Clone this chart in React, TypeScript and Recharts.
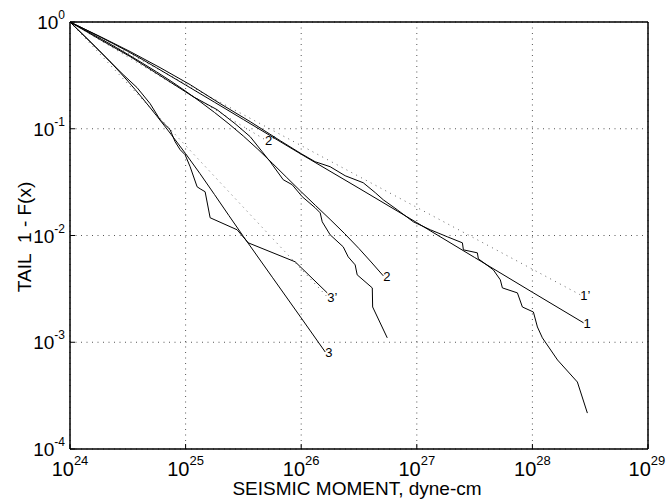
import { CartesianGrid, Line, LineChart, XAxis, YAxis } from 'recharts'

const FONT = '"Liberation Sans", Arial, Helvetica, sans-serif'

// decades on both axes
const X_TICKS = [1e24, 1e25, 1e26, 1e27, 1e28, 1e29]
const Y_TICKS = [1e-4, 1e-3, 1e-2, 1e-1, 1]

// seismic moment (dyne-cm) and tail 1 - F(x)

// curve 1, empirical (stepped)
const EMP1_M = [1e24, 1.82e24, 3.31e24, 6.01e24, 1.094e25, 1.99e25, 3.62e25, 6.58e25, 1.0e26, 1.32e26, 1.78e26, 2.4e26, 3.44e26, 4.37e26, 5.13e26, 6.78e26, 9.33e26, 1.31e27, 1.84e27, 2.48e27, 2.53e27, 3.34e27, 3.41e27, 4.59e27, 5.28e27, 5.5e27, 7.42e27, 8.19e27, 1.02e28, 1.105e28, 1.22e28, 1.65e28, 2.45e28, 2.99e28]
const EMP1_T = [1, 0.731, 0.529, 0.374, 0.259, 0.172, 0.1166, 0.0773, 0.0584, 0.0491, 0.0441, 0.0363, 0.0312, 0.0252, 0.0216, 0.0174, 0.01344, 0.01131, 9.72e-3, 8.54e-3, 7.34e-3, 6.88e-3, 6.05e-3, 4.77e-3, 3.84e-3, 3.23e-3, 2.9e-3, 2.14e-3, 1.92e-3, 1.39e-3, 1.1e-3, 6.82e-4, 4.24e-4, 2.17e-4]
// curve 1, fit
const FIT1_M = [1e24, 3.16e24, 1e25, 3.16e25, 1e26, 3.16e26, 1e27, 3.16e27, 1e28, 2.77e28]
const FIT1_T = [1, 0.531, 0.257, 0.122, 0.0577, 0.0277, 0.0132, 6.23e-3, 2.94e-3, 1.52e-3]
// curve 1', pure power law
const PAR1_M = [1e24, 2.6e28]
const PAR1_T = [1, 2.78e-3]

// curve 2
const EMP2_M = [1e24, 1.82e24, 3.31e24, 6.01e24, 1.16e25, 1.87e25, 2.68e25, 3.62e25, 5.39e25, 6.99e25, 8.36e25, 1.02e26, 1.32e26, 1.46e26, 1.52e26, 1.78e26, 2.31e26, 2.55e26, 2.93e26, 3.05e26, 4.12e26, 4.15e26, 5.55e26]
const EMP2_T = [1, 0.685, 0.475, 0.315, 0.2, 0.151, 0.1116, 0.0843, 0.0491, 0.0333, 0.0299, 0.0231, 0.0182, 0.0163, 0.01344, 0.01015, 7.83e-3, 6.31e-3, 5.31e-3, 4.28e-3, 3.23e-3, 2.14e-3, 1.1e-3]
const FIT2_M = [1e24, 3.16e24, 1e25, 3.16e25, 1e26, 3.16e26, 5.13e26]
const FIT2_T = [1, 0.498, 0.225, 0.0854, 0.0257, 7.55e-3, 4.19e-3]
const PAR2_M = [1e24, 4.87e25]
const PAR2_T = [1, 0.079]

// curve 3
const EMP3_M = [1e24, 1.646e24, 2.22e24, 2.88e24, 3.8e24, 4.93e24, 6.01e24, 7.34e24, 8.11e24, 8.96e24, 9.9e24, 1.094e25, 1.258e25, 1.335e25, 1.475e25, 1.63e25, 2.79e25, 3.48e25, 8.87e25, 1.68e26]
const EMP3_T = [1, 0.589, 0.426, 0.322, 0.243, 0.172, 0.1217, 0.0981, 0.0757, 0.0637, 0.0571, 0.0441, 0.0286, 0.0274, 0.0257, 0.01466, 0.01131, 8.54e-3, 5.67e-3, 2.9e-3]
const FIT3_M = [1e24, 3.16e24, 1e25, 3.16e25, 1e26, 1.615e26]
const FIT3_T = [1, 0.28, 0.0584, 9.8e-3, 1.69e-3, 8.1e-4]
const PAR3_M = [1e24, 1.68e26]
const PAR3_T = [1, 2.66e-3]

const zip = (m: number[], t: number[]) => m.map((v, i) => ({ m: v, t: t[i] }))

const exp10 = (v: number) => Math.round(Math.log10(v))

function XTick({ x, y, payload }: any) {
  return (
    <text x={x} y={y + 27} textAnchor="middle" fontFamily={FONT} fontSize={20} fill="#000">
      <tspan>10</tspan>
      <tspan fontSize={13} dy={-11}>{exp10(payload.value)}</tspan>
    </text>
  )
}

function YTick({ x, y, payload }: any) {
  return (
    <text x={x} y={y + 7} textAnchor="end" fontFamily={FONT} fontSize={19} fill="#000">
      <tspan>10</tspan>
      <tspan fontSize={12} dy={-10}>{exp10(payload.value)}</tspan>
    </text>
  )
}

const endLabel = (text: string, n: number) => (p: any) =>
  p.index === n - 1 ? (
    <text x={p.x} y={p.y + 5} fontFamily={FONT} fontSize={13} fill="#000">
      {text}
    </text>
  ) : null

const solid = { stroke: '#000', strokeWidth: 1, dot: false, activeDot: false, isAnimationActive: false }
const dotted = { stroke: '#666', strokeWidth: 1, strokeDasharray: '1 4.5', dot: false, activeDot: false, isAnimationActive: false }

export default function App() {
  return (
    <div style={{ position: 'absolute', left: 0, top: 0, background: '#fff' }}>
      <LineChart width={667} height={500} margin={{ top: 21, right: 18, bottom: 0, left: 0 }}>
        <CartesianGrid stroke="#555" strokeDasharray="1 4.5" />
        <XAxis
          dataKey="m"
          type="number"
          scale="log"
          domain={[1e24, 1e29]}
          ticks={X_TICKS}
          allowDataOverflow
          height={51}
          tick={<XTick />}
          tickSize={-5}
          tickMargin={5}
          axisLine={{ stroke: '#000', strokeWidth: 1.5 }}
          tickLine={{ stroke: '#000' }}
          label={{
            content: () => (
              <text x={357} y={495} textAnchor="middle" fontFamily={FONT} fontSize={19} fill="#000">
                SEISMIC MOMENT, dyne-cm
              </text>
            ),
          }}
        />
        <XAxis
          xAxisId="top"
          orientation="top"
          type="number"
          scale="log"
          domain={[1e24, 1e29]}
          ticks={X_TICKS}
          allowDataOverflow
          height={1}
          tick={false}
          tickSize={-5}
          axisLine={{ stroke: '#000', strokeWidth: 1.5 }}
          tickLine={{ stroke: '#000' }}
        />
        <YAxis
          type="number"
          scale="log"
          domain={[1e-4, 1]}
          ticks={Y_TICKS}
          allowDataOverflow
          width={70}
          tick={<YTick />}
          tickSize={-5}
          tickMargin={10}
          axisLine={{ stroke: '#000', strokeWidth: 1.5 }}
          tickLine={{ stroke: '#000' }}
          label={{
            content: () => (
              <text
                x={31}
                y={237}
                transform="rotate(-90 31 237)"
                textAnchor="middle"
                fontFamily={FONT}
                fontSize={19}
                fill="#000"
              >
                {'TAIL\u00a0\u00a01 - F(x)'}
              </text>
            ),
          }}
        />
        <YAxis
          yAxisId="right"
          orientation="right"
          type="number"
          scale="log"
          domain={[1e-4, 1]}
          ticks={Y_TICKS}
          allowDataOverflow
          width={1}
          tick={false}
          tickSize={-5}
          axisLine={{ stroke: '#000', strokeWidth: 1.5 }}
          tickLine={{ stroke: '#000' }}
        />

        <Line data={zip(PAR1_M, PAR1_T)} dataKey="t" type="linear" {...dotted} label={endLabel('1’', PAR1_M.length)} />
        <Line data={zip(PAR2_M, PAR2_T)} dataKey="t" type="linear" {...dotted} label={endLabel('2’', PAR2_M.length)} />
        <Line data={zip(PAR3_M, PAR3_T)} dataKey="t" type="linear" {...dotted} label={endLabel('3’', PAR3_M.length)} />

        <Line data={zip(EMP1_M, EMP1_T)} dataKey="t" type="linear" {...solid} />
        <Line data={zip(FIT1_M, FIT1_T)} dataKey="t" type="monotone" {...solid} label={endLabel('1', FIT1_M.length)} />
        <Line data={zip(EMP2_M, EMP2_T)} dataKey="t" type="linear" {...solid} />
        <Line data={zip(FIT2_M, FIT2_T)} dataKey="t" type="monotone" {...solid} label={endLabel('2', FIT2_M.length)} />
        <Line data={zip(EMP3_M, EMP3_T)} dataKey="t" type="linear" {...solid} />
        <Line data={zip(FIT3_M, FIT3_T)} dataKey="t" type="monotone" {...solid} label={endLabel('3', FIT3_M.length)} />
      </LineChart>
    </div>
  )
}
